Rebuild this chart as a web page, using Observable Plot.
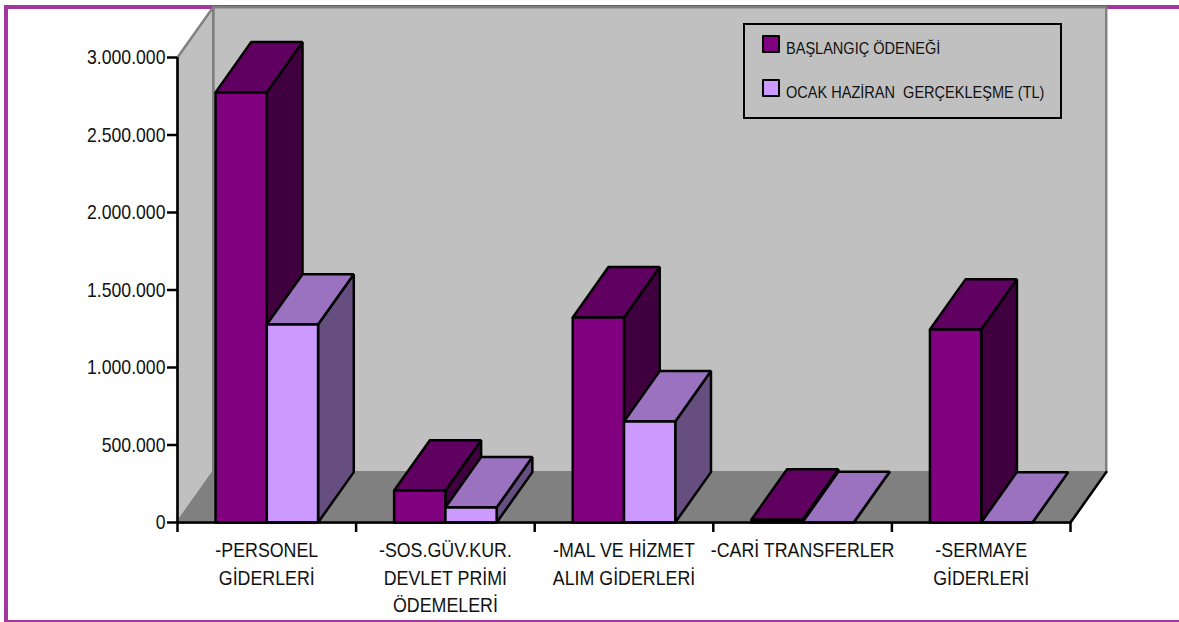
<!DOCTYPE html>
<html lang="tr">
<head>
<meta charset="utf-8">
<script src="https://cdn.jsdelivr.net/npm/d3@7"></script>
<script src="https://cdn.jsdelivr.net/npm/@observablehq/plot@0.6"></script>
<style>
html,body{margin:0;padding:0;background:#fff;width:1179px;height:622px;overflow:hidden}
#frame{position:absolute;left:4px;top:5px;width:1175px;height:611px;border-left:4px solid #a2389f;border-top:4px solid #a2389f;border-bottom:2px solid #a2389f}
#chart{position:absolute;left:0;top:0}
#legend{position:absolute;left:743px;top:23px;width:315px;height:92px;border:2px solid #000;font-family:"Liberation Sans",sans-serif;font-size:17px;color:#111}
.row{position:absolute;left:17px;display:flex;align-items:center;gap:5px;white-space:pre}
.sw{width:14px;height:14px;border:2.5px solid #000;border-radius:1px;display:inline-block;position:relative;top:-2px}
.lt{display:inline-block;transform:scaleX(.855);transform-origin:left center;position:relative;top:3px;left:1px}
</style>
</head>
<body>
<div id="frame"></div>
<div id="chart"></div>
<div id="legend">
  <div class="row" style="top:11px"><span class="sw" style="background:#800080"></span><span class="lt" id="l0"></span></div>
  <div class="row" style="top:55px"><span class="sw" style="background:#cc99ff"></span><span class="lt" id="l1"></span></div>
</div>
<script>
const categories = ["-PERSONEL\nGİDERLERİ", "-SOS.GÜV.KUR.\nDEVLET PRİMİ\nÖDEMELERİ", "-MAL VE HİZMET\nALIM GİDERLERİ", "-CARİ TRANSFERLER", "-SERMAYE\nGİDERLERİ"];
const seriesNames = ["BAŞLANGIÇ ÖDENEĞİ", "OCAK HAZİRAN  GERÇEKLEŞME (TL)"];
const baslangic = [2775000, 206000, 1323000, 18000, 1245000];
const gerceklesme = [1277000, 97000, 652000, 2000, 0];
const yTicks = [0, 500000, 1000000, 1500000, 2000000, 2500000, 3000000];
const frontColors = ["#800080", "#cc99ff"];
const topColors = ["#600060", "#9a72bf"];
const sideColors = ["#400040", "#664f80"];

const depthX = 0.2, depthY = 325000, gap = 0.213, barW = 0.287, yMax = 3000000, n = categories.length;
document.getElementById("l0").textContent = seriesNames[0];
document.getElementById("l1").textContent = seriesNames[1];

const fmt = d3.formatLocale({decimal: ",", thousands: ".", grouping: [3], currency: ["", ""]}).format(",");

function poly(id, fill, pts) {
  return [...pts, pts[0]].map(([x, y]) => ({id, fill, x, y}));
}
const bars = [];
[baslangic, gerceklesme].forEach((vals, s) => vals.forEach((v, i) => bars.push({v, i, s})));
bars.sort((a, b) => a.i - b.i || a.s - b.s);
const faces = bars.flatMap(({v, i, s}) => {
  const x0 = i + gap + s * barW, x1 = x0 + barW, k = `${i}-${s}`;
  return [
    ...poly(k + "side", sideColors[s], [[x1, 0], [x1 + depthX, depthY], [x1 + depthX, v + depthY], [x1, v]]),
    ...poly(k + "top", topColors[s], [[x0, v], [x1, v], [x1 + depthX, v + depthY], [x0 + depthX, v + depthY]]),
    ...poly(k + "front", frontColors[s], [[x0, 0], [x1, 0], [x1, v], [x0, v]])
  ];
});

const room = [
  ...poly("wall", "#c0c0c0", [[depthX, depthY], [n + depthX, depthY], [n + depthX, yMax + depthY], [depthX, yMax + depthY]]),
  ...poly("side", "#c0c0c0", [[0, 0], [depthX, depthY], [depthX, yMax + depthY], [0, yMax]]),
  ...poly("floor", "#808080", [[0, 0], [n, 0], [n + depthX, depthY], [depthX, depthY]])
];

const labels = categories.map((c, i) => ({x: i + 0.5, c}));

const plot = Plot.plot({
  width: 1179, height: 622,
  marginLeft: 177, marginRight: 109, marginTop: 57, marginBottom: 100,
  style: {background: "transparent", fontFamily: '"Liberation Sans",sans-serif', color: "#000", overflow: "visible"},
  x: {domain: [0, n]},
  y: {domain: [0, yMax]},
  color: {type: "identity"},
  marks: [
    Plot.line(room, {x: "x", y: "y", z: "id", fill: "fill", stroke: "#808080", strokeWidth: 2.5, curve: "linear"}),
    Plot.line([{x: n, y: 0}, {x: n + depthX, y: depthY}], {x: "x", y: "y", stroke: "#000", strokeWidth: 2.5}),
    Plot.line(faces, {x: "x", y: "y", z: "id", fill: "fill", stroke: "#000", strokeWidth: 2.5, strokeLinejoin: "miter", curve: "linear"}),
    Plot.ruleX([0], {stroke: "#000", strokeWidth: 2.5}),
    Plot.ruleY([0], {stroke: "#000", strokeWidth: 2.5}),
    Plot.axisY({ticks: yTicks, tickSize: 10, tickPadding: 2, tickFormat: fmt, label: null, fontSize: 21, strokeWidth: 2.5, stroke: "#000", fill: "#111"}),
    Plot.axisX({ticks: d3.range(n + 1), tickSize: 10, tickFormat: () => "", label: null, strokeWidth: 2.5, stroke: "#000"}),
    Plot.text(labels, {x: "x", y: () => 0, text: "c", dy: 15, lineAnchor: "top", lineHeight: 1.375, fontSize: 20, fill: "#111"})
  ]
});
document.getElementById("chart").append(plot);

// The reference's type is condensed horizontally: narrow each text run, keeping its anchor.
plot.querySelectorAll("text").forEach((t) => {
  const inAxis = (t.closest("g[aria-label]")?.getAttribute("aria-label") || "").startsWith("y-axis");
  const factor = inAxis ? 0.84 : 0.89;
  const runs = t.querySelectorAll("tspan");
  (runs.length ? runs : [t]).forEach((r) => {
    const w = r.getComputedTextLength();
    if (w > 0) {
      r.setAttribute("textLength", (w * factor).toFixed(1));
      r.setAttribute("lengthAdjust", "spacingAndGlyphs");
    }
  });
});
</script>
</body>
</html>
